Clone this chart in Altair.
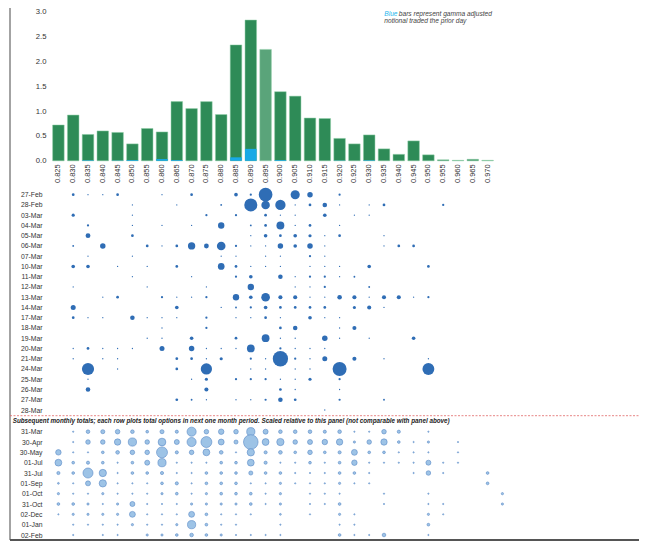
import altair as alt
import pandas as pd

FONT = "Liberation Sans"

# ---------------- data ----------------
strikes = ["0.825", "0.830", "0.835", "0.840", "0.845", "0.850", "0.855", "0.860",
           "0.865", "0.870", "0.875", "0.880", "0.885", "0.890", "0.895", "0.900",
           "0.905", "0.910", "0.915", "0.920", "0.925", "0.930", "0.935", "0.940",
           "0.945", "0.950", "0.955", "0.960", "0.965", "0.970", "0.975"]
bar_strikes = strikes[:30]

total_notional = [0.72, 0.92, 0.53, 0.60, 0.57, 0.34, 0.65, 0.58, 1.19, 1.05,
                  1.19, 0.93, 2.33, 2.83, 2.24, 1.39, 1.30, 0.86, 0.85, 0.45,
                  0.34, 0.52, 0.24, 0.13, 0.40, 0.12, 0.02, 0.01, 0.03, 0.01]
prior_day = [0, 0, 0.01, 0, 0.005, 0.015, 0, 0.035, 0.015, 0,
             0, 0, 0.07, 0.24, 0, 0.015, 0, 0, 0, 0.005,
             0, 0.01, 0, 0, 0, 0, 0, 0, 0, 0]

upper_dates = ["27-Feb", "28-Feb", "03-Mar", "04-Mar", "05-Mar", "06-Mar", "07-Mar",
               "10-Mar", "11-Mar", "12-Mar", "13-Mar", "14-Mar", "17-Mar", "18-Mar",
               "19-Mar", "20-Mar", "21-Mar", "24-Mar", "25-Mar", "26-Mar", "27-Mar",
               "28-Mar"]
# per row: {strike index: traded amount}
upper_rows = [
    {1: 9, 2: 2, 3: 2, 4: 9, 7: 2, 9: 9, 12: 16, 13: 6, 14: 225, 16: 100, 17: 36, 19: 6},
    {5: 2, 8: 2, 11: 4, 13: 205, 14: 87, 15: 128, 16: 2, 17: 9, 18: 25, 19: 2, 21: 2, 22: 9, 26: 6},
    {1: 12, 5: 2, 10: 6, 12: 6, 14: 9, 15: 2, 16: 2, 18: 16, 20: 2, 21: 2},
    {2: 6, 5: 2, 7: 2, 9: 2, 11: 49, 13: 4, 14: 9, 15: 75, 16: 2, 17: 9, 19: 2},
    {2: 28, 5: 9, 13: 2, 14: 16, 15: 9, 16: 16, 17: 12, 18: 2, 19: 9, 22: 2},
    {1: 4, 3: 36, 6: 9, 7: 2, 8: 9, 9: 64, 10: 28, 11: 90, 12: 6, 13: 2, 14: 2, 15: 36,
     16: 16, 17: 36, 18: 2, 22: 2, 23: 9, 24: 9},
    {2: 2, 5: 2, 11: 2, 12: 2, 14: 2, 15: 2, 17: 6, 18: 2},
    {1: 16, 2: 16, 4: 2, 6: 2, 8: 9, 11: 54, 12: 9, 13: 2, 14: 2, 15: 2, 17: 2, 18: 2,
     19: 2, 21: 16, 25: 9},
    {5: 2, 9: 2, 12: 6, 13: 16, 15: 25, 16: 2, 17: 6, 18: 6, 19: 2, 20: 4},
    {1: 2, 6: 2, 10: 2, 13: 49, 16: 2, 17: 2, 18: 6, 21: 4},
    {3: 2, 4: 9, 7: 6, 8: 2, 9: 2, 10: 6, 12: 49, 13: 16, 14: 90, 15: 20, 16: 20, 17: 2,
     18: 2, 19: 25, 20: 20, 21: 2, 22: 20, 23: 20, 24: 2, 25: 6},
    {1: 30, 8: 16, 11: 2, 12: 4, 13: 6, 14: 16, 15: 9, 16: 9, 17: 9, 18: 9, 20: 12, 21: 20, 22: 2},
    {1: 9, 2: 2, 3: 2, 5: 25, 6: 2, 7: 2, 8: 2, 10: 6, 12: 2, 13: 2, 14: 9, 15: 2, 17: 16,
     18: 2, 19: 2},
    {7: 2, 10: 6, 15: 9, 16: 25, 19: 2, 20: 20},
    {6: 2, 7: 2, 9: 16, 12: 9, 14: 72, 15: 2, 16: 2, 18: 36, 19: 2, 21: 2, 24: 16},
    {1: 2, 2: 9, 3: 2, 4: 2, 5: 2, 7: 30, 9: 36, 10: 2, 11: 2, 12: 2, 13: 72, 15: 6,
     16: 2, 17: 2, 18: 2},
    {1: 2, 3: 2, 4: 2, 8: 9, 9: 9, 10: 2, 11: 12, 13: 6, 14: 2, 15: 280, 16: 6, 17: 2,
     18: 30, 20: 20, 22: 2, 25: 2},
    {2: 178, 4: 2, 8: 9, 10: 152, 13: 2, 14: 2, 16: 2, 17: 2, 19: 235, 25: 169},
    {2: 2, 9: 2, 10: 12, 12: 6, 13: 6, 14: 6, 15: 2, 16: 2, 17: 12, 19: 6},
    {2: 25, 10: 20, 15: 9, 16: 2, 19: 2},
    {8: 9, 9: 4, 10: 2, 12: 2, 13: 2, 14: 6, 15: 25, 16: 9, 19: 6, 22: 4},
    {18: 2},
]

lower_dates = ["31-Mar", "30-Apr", "30-May", "01-Jul", "31-Jul", "01-Sep", "01-Oct",
               "31-Oct", "02-Dec", "01-Jan", "02-Feb"]
lower_rows = [
    {1: 2, 2: 16, 3: 20, 4: 25, 5: 16, 6: 9, 7: 20, 8: 12, 9: 100, 10: 25, 11: 36, 12: 25,
     13: 81, 14: 30, 15: 16, 16: 16, 17: 16, 18: 12, 19: 16, 20: 2, 21: 2, 22: 25, 23: 12, 25: 2},
    {1: 2, 2: 25, 3: 25, 4: 49, 5: 81, 6: 25, 7: 72, 8: 30, 9: 100, 10: 144, 11: 42, 12: 20,
     13: 256, 14: 56, 15: 64, 16: 25, 17: 30, 18: 36, 19: 49, 20: 6, 21: 25, 22: 49, 23: 9,
     24: 2, 25: 6, 27: 2},
    {0: 36, 1: 2, 2: 2, 3: 9, 4: 16, 5: 25, 6: 25, 7: 144, 8: 12, 9: 25, 10: 56, 11: 16,
     12: 2, 13: 64, 14: 12, 15: 16, 16: 9, 17: 25, 18: 9, 19: 12, 20: 42, 21: 9, 22: 9,
     23: 2, 24: 2, 25: 2, 27: 2},
    {0: 56, 1: 9, 2: 12, 3: 9, 4: 2, 5: 9, 6: 30, 7: 81, 8: 2, 9: 2, 10: 2, 11: 9, 12: 9,
     13: 56, 14: 12, 15: 2, 16: 2, 17: 9, 18: 2, 19: 9, 20: 36, 21: 2, 22: 2, 23: 2, 24: 2,
     25: 30, 26: 2, 27: 2},
    {0: 12, 1: 9, 2: 121, 3: 64, 4: 2, 5: 9, 6: 9, 7: 12, 8: 2, 9: 2, 10: 9, 11: 9, 12: 9,
     13: 20, 14: 9, 15: 9, 16: 2, 17: 2, 18: 2, 19: 9, 20: 9, 21: 2, 24: 2, 25: 25, 26: 2, 29: 9},
    {0: 4, 1: 2, 2: 30, 3: 64, 4: 2, 5: 2, 6: 2, 7: 9, 8: 12, 9: 2, 10: 9, 11: 9, 12: 9,
     13: 2, 14: 2, 15: 6, 16: 2, 17: 2, 18: 2, 19: 6, 20: 2, 21: 2, 29: 9},
    {0: 6, 1: 2, 2: 2, 3: 6, 4: 2, 5: 2, 6: 2, 7: 6, 8: 9, 9: 2, 10: 6, 11: 9, 12: 9, 13: 9,
     14: 2, 15: 6, 17: 2, 18: 2, 19: 2, 22: 2, 25: 2, 30: 6},
    {0: 9, 1: 9, 2: 6, 3: 2, 4: 6, 5: 30, 6: 2, 7: 2, 8: 2, 9: 6, 10: 6, 11: 6, 12: 6,
     13: 9, 14: 2, 15: 6, 17: 2, 18: 2, 19: 9, 22: 2, 25: 2, 26: 2, 30: 6},
    {0: 2, 1: 6, 2: 6, 3: 6, 4: 6, 5: 42, 6: 2, 7: 2, 8: 2, 9: 42, 10: 9, 11: 2, 12: 2,
     13: 2, 15: 4, 17: 2, 19: 6, 20: 2, 25: 6, 26: 2},
    {1: 2, 2: 2, 3: 2, 4: 2, 5: 6, 6: 2, 7: 2, 8: 6, 9: 81, 10: 9, 11: 2, 12: 2, 15: 2,
     19: 2, 20: 2, 25: 9},
    {1: 2, 3: 2, 4: 2, 6: 6, 7: 6, 8: 9, 9: 16, 10: 9, 11: 6, 12: 2, 13: 2, 14: 2, 15: 2,
     19: 9, 20: 2, 21: 2, 22: 16, 25: 2},
]

panel_note = ("Subsequent monthly totals; each row plots total options in next one month "
              "period. Scaled relative to this panel (not comparable with panel above)")

# ---------------- tables ----------------
bar_df = pd.DataFrame({"strike": bar_strikes, "value": total_notional})
blue_df = pd.DataFrame({"strike": bar_strikes, "value": prior_day})


def rows_to_df(dates, rows):
    recs = []
    for d, row in zip(dates, rows):
        for k, v in row.items():
            recs.append({"date": d, "strike": strikes[k], "value": v})
    return pd.DataFrame(recs)


up_df = rows_to_df(upper_dates, upper_rows)
lo_df = rows_to_df(lower_dates, lower_rows)
one = pd.DataFrame({"a": [0]})

# ---------------- layout constants ----------------
W, H = 588, 533
STEP = 14.8
Y_ZERO, Y_TOP = 152.8, 3.6
UP_RANGE = [186.7, 402.0]
LO_RANGE = [423.7, 527.0]
SEP_Y = 407.7
NOTE_Y = 412.5
BORDER_Y = 532.0
LEFT_X = -41

x_band = alt.Scale(domain=bar_strikes, range=[0, 30 * STEP], paddingInner=0.22, paddingOuter=0.11)
x_point = alt.Scale(type="point", domain=strikes, range=[STEP / 2, STEP / 2 + 30 * STEP], padding=0)
y_bar = alt.Scale(domain=[0, 3], range=[Y_ZERO, Y_TOP], zero=True, nice=False)
size_scale = alt.Scale(type="linear", domain=[0, 300], range=[0, 250], zero=True)

label_color = "#333333"

bars = alt.Chart(bar_df).mark_bar(stroke="#8fcfa6", strokeWidth=0.5).encode(
    x=alt.X("strike:N", scale=x_band, sort=bar_strikes,
            axis=alt.Axis(orient="bottom", offset=Y_ZERO - H, labelAngle=-90,
                          labelAlign="right", labelBaseline="middle", labelPadding=3,
                          ticks=False, tickSize=0, domain=False, grid=False, title=None,
                          labelFont=FONT, labelFontSize=7.5, labelColor=label_color)),
    y=alt.Y("value:Q", scale=y_bar,
            axis=alt.Axis(orient="left", values=[0, 0.5, 1, 1.5, 2, 2.5, 3], format=".1f",
                          ticks=False, tickSize=0, domain=False, grid=False, title=None,
                          labelPadding=5, labelFont=FONT, labelFontSize=7.7,
                          labelColor=label_color)),
    color=alt.condition(alt.datum.strike == "0.895", alt.value("#5aa47a"), alt.value("#2E8B57")),
)

blue = alt.Chart(blue_df).transform_filter("datum.value > 0").mark_bar(color="#17A9E6").encode(
    x=alt.X("strike:N", scale=x_band, sort=bar_strikes, axis=None),
    y=alt.Y("value:Q", scale=y_bar, axis=None),
)

date_axis = dict(orient="left", ticks=False, tickSize=0, domain=False, grid=False, title=None,
                 labelPadding=9, labelFont=FONT, labelFontSize=6.8, labelColor=label_color)

upper = alt.Chart(up_df).mark_circle(color="#2F6DB5", opacity=1).encode(
    x=alt.X("strike:N", scale=x_point, axis=None),
    y=alt.Y("date:N", scale=alt.Scale(type="point", domain=upper_dates, range=UP_RANGE, padding=0),
            axis=alt.Axis(**date_axis)),
    size=alt.Size("value:Q", scale=size_scale, legend=None),
)

lower = alt.Chart(lo_df).mark_circle(color="#9DC3E6", opacity=1, stroke="#5A8AC6",
                                     strokeWidth=0.6).encode(
    x=alt.X("strike:N", scale=x_point, axis=None),
    y=alt.Y("date:N", scale=alt.Scale(type="point", domain=lower_dates, range=LO_RANGE, padding=0),
            axis=alt.Axis(**date_axis)),
    size=alt.Size("value:Q", scale=size_scale, legend=None),
)

left_border = alt.Chart(one).mark_rule(color="#666666", strokeWidth=1.2).encode(
    x=alt.value(LEFT_X), y=alt.value(-2), y2=alt.value(BORDER_Y))
bottom_border = alt.Chart(one).mark_rule(color="#555555", strokeWidth=1.8).encode(
    x=alt.value(LEFT_X), x2=alt.value(W), y=alt.value(BORDER_Y))
separator = alt.Chart(one).mark_rule(color="#e06666", strokeWidth=0.8, strokeDash=[2, 1.5]).encode(
    x=alt.value(LEFT_X), x2=alt.value(W), y=alt.value(SEP_Y))

note = alt.Chart(one).mark_text(align="left", baseline="middle", font=FONT, fontSize=6.3,
                                fontStyle="italic", fontWeight="bold", color="#222222",
                                text=panel_note).encode(x=alt.value(-38.3), y=alt.value(NOTE_Y))

leg_x = 333.3
leg_blue = alt.Chart(one).mark_text(align="left", baseline="middle", font=FONT, fontSize=6.6,
                                    fontStyle="italic", color="#29B6EC", text="Blue").encode(
    x=alt.value(leg_x), y=alt.value(5.8))
leg_rest = alt.Chart(one).mark_text(align="left", baseline="middle", font=FONT, fontSize=6.6,
                                    fontStyle="italic", color="#444444",
                                    text="bars represent gamma adjusted").encode(
    x=alt.value(leg_x + 14.5), y=alt.value(5.8))
leg_line2 = alt.Chart(one).mark_text(align="left", baseline="middle", font=FONT, fontSize=6.6,
                                     fontStyle="italic", color="#444444",
                                     text="notional traded the prior day").encode(
    x=alt.value(leg_x), y=alt.value(13.3))

chart = alt.layer(
    bars, blue, upper, lower, left_border, bottom_border, separator, note,
    leg_blue, leg_rest, leg_line2
).resolve_scale(
    x="independent", y="independent", size="independent"
).properties(
    width=W, height=H,
    padding={"left": 43, "top": 0, "right": 0, "bottom": 0},
    autosize=alt.AutoSizeParams(type="none"),
    background="white",
).configure_view(stroke=None)

chart.save("out.html", embed_options={"renderer": "svg", "actions": False})
